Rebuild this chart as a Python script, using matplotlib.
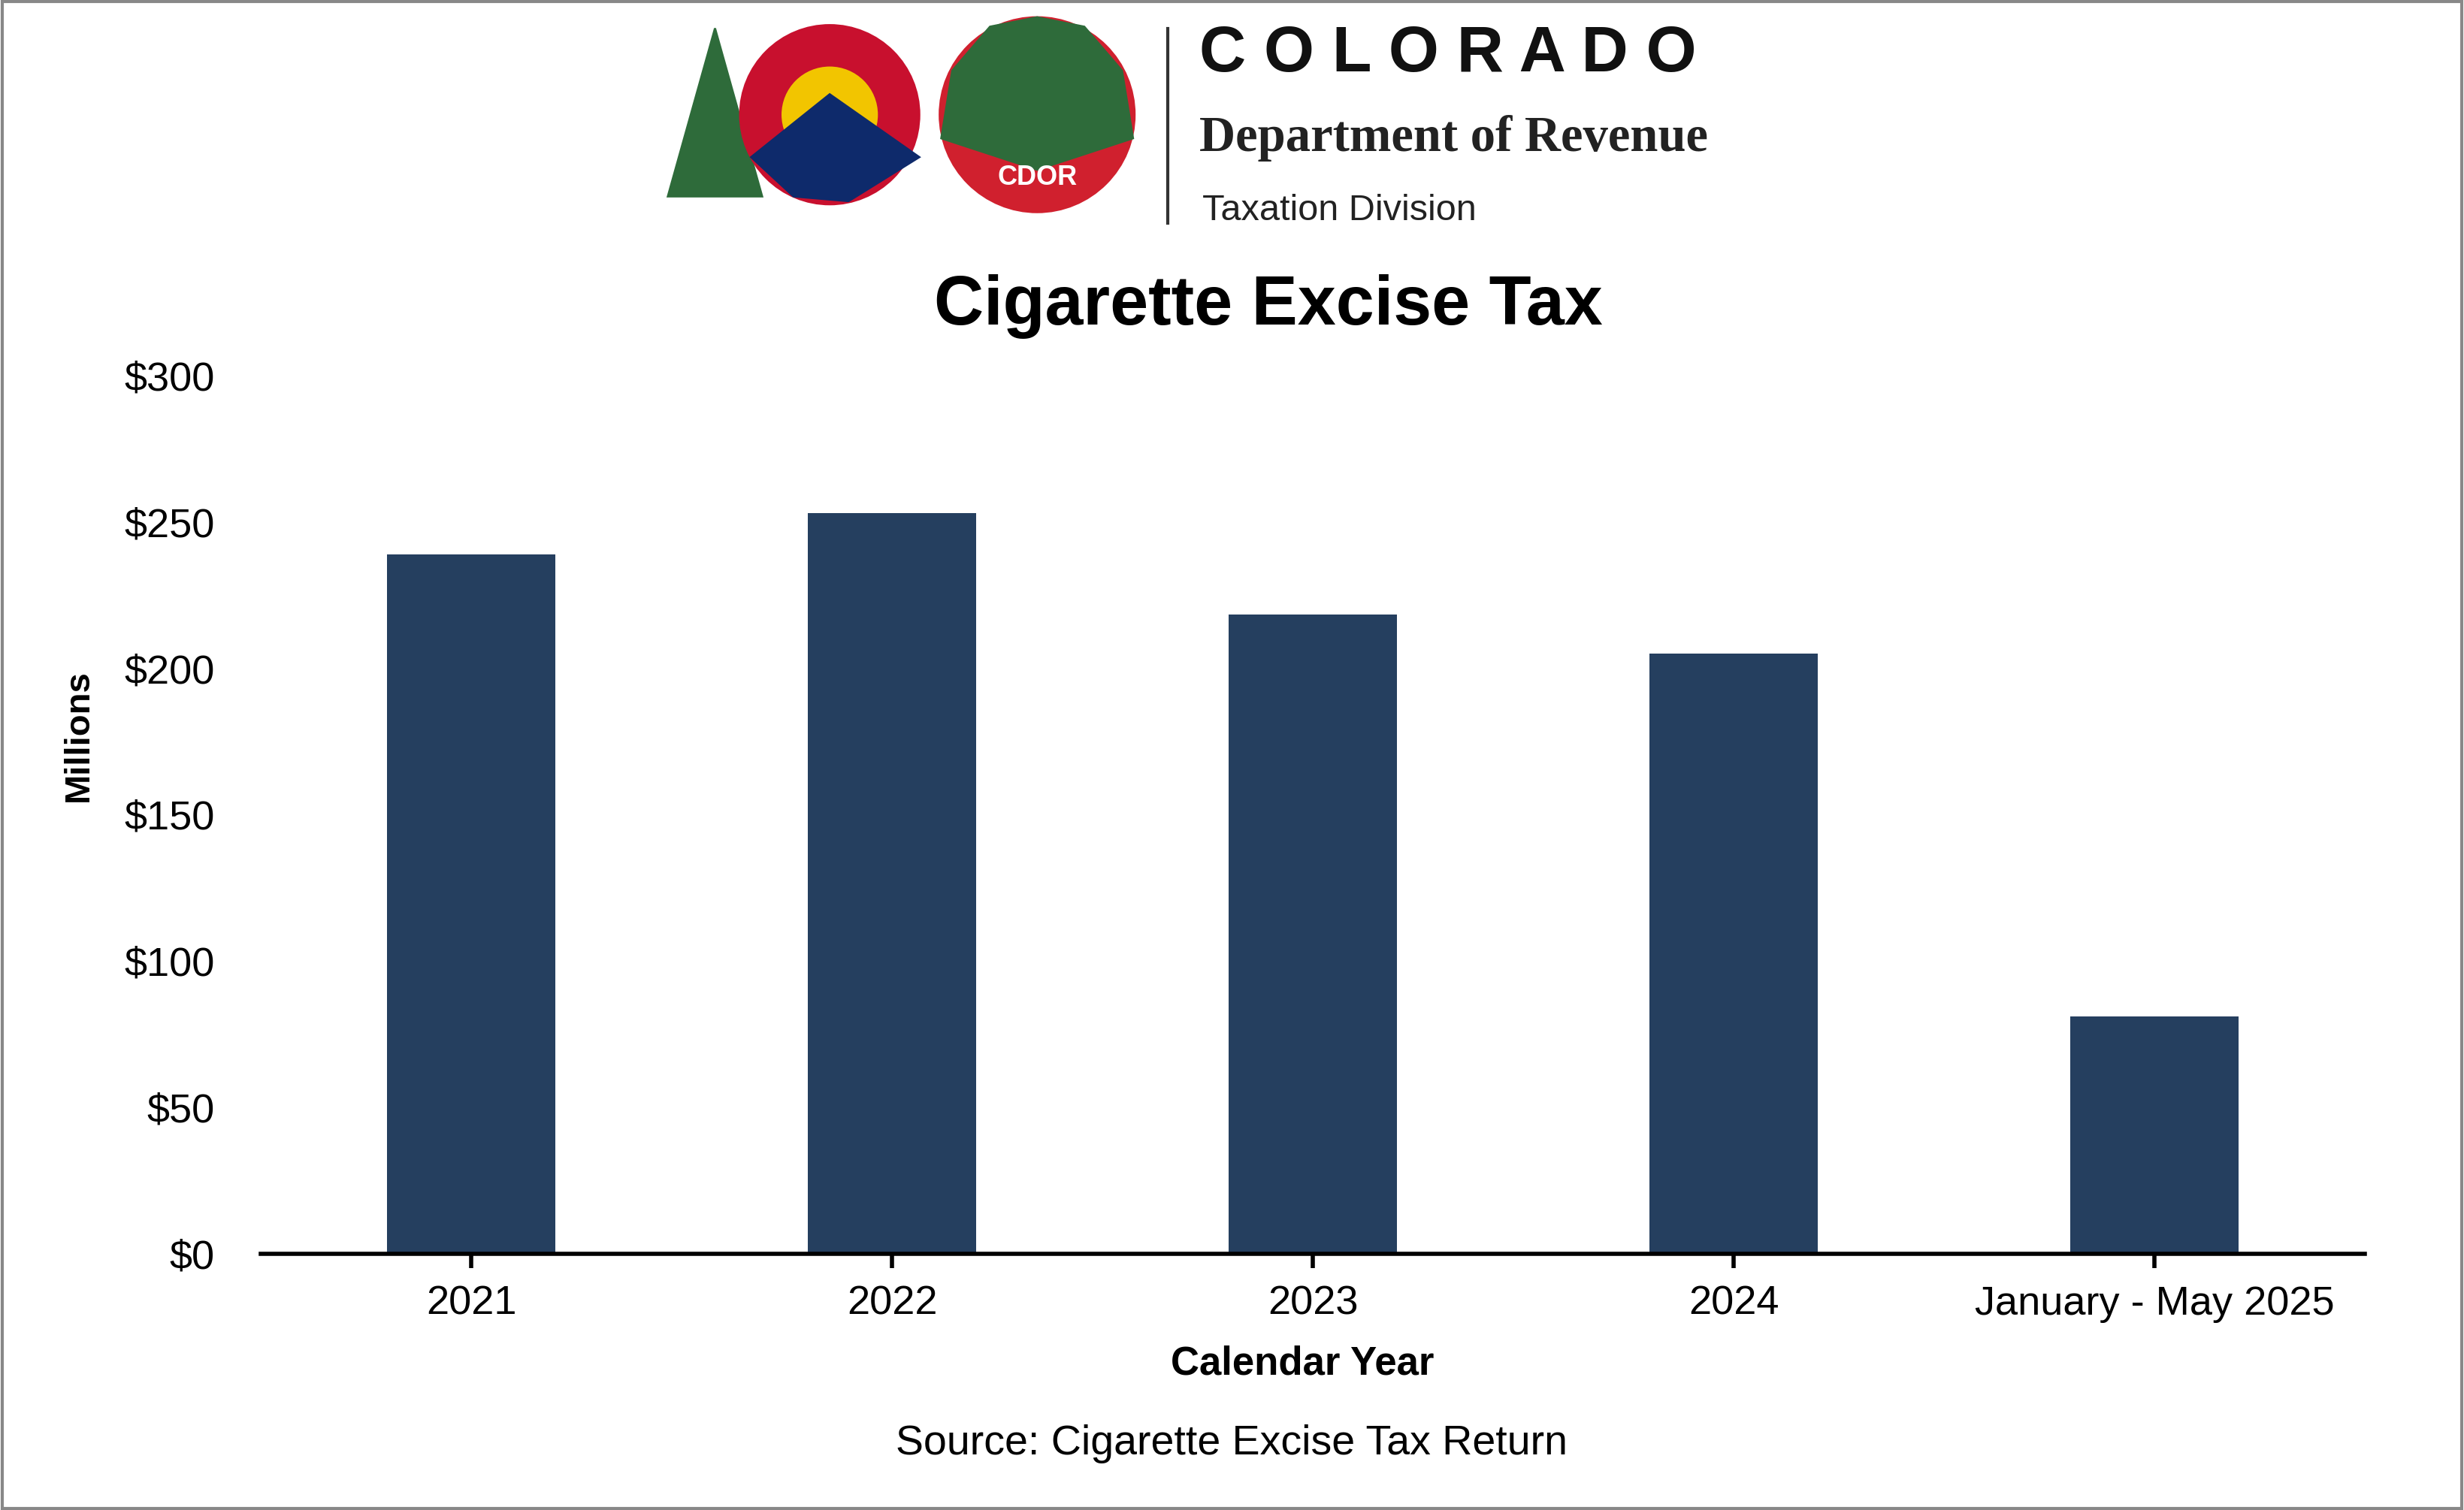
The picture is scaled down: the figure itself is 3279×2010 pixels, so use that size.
import matplotlib
matplotlib.use("Agg")
import matplotlib.pyplot as plt
from matplotlib.patches import Polygon, Rectangle, Ellipse
from matplotlib.lines import Line2D

categories = ["2021", "2022", "2023", "2024", "January - May 2025"]
values = [239, 253, 218.5, 205, 81]
yticks = [0, 50, 100, 150, 200, 250, 300]
ytick_labels = ["$0", "$50", "$100", "$150", "$200", "$250", "$300"]

W, H = 1568, 961
fig = plt.figure(figsize=(16.395, 10.05), dpi=200)
plt.rcParams["font.family"] = "Liberation Sans"

def fx(x): return x / W
def fy(y): return 1 - y / H

ax = fig.add_axes([fx(166), fy(798), fx(1505) - fx(166), fy(239) - fy(798)])
ax.bar(range(len(values)), values, width=0.4, color="#253F5F")
ax.set_xlim(-0.5, 4.5)
ax.set_ylim(0, 300)
ax.set_yticks(yticks)
ax.set_yticklabels(ytick_labels, fontsize=19.5)
ax.set_xticks(range(len(categories)))
ax.set_xticklabels(categories, fontsize=19.5)
ax.tick_params(axis="y", length=0, pad=22)
ax.tick_params(axis="x", length=7, width=2, direction="out", pad=8)
for s in ["top", "right", "left"]:
    ax.spines[s].set_visible(False)
ax.spines["bottom"].set_linewidth(2)
ax.set_ylabel("Millions", fontsize=17, fontweight="bold")
ax.yaxis.set_label_coords((50 - 166) / (1505 - 166), (798 - 468) / (798 - 239))
ax.set_xlabel("Calendar Year", fontsize=19, fontweight="bold")
ax.xaxis.set_label_coords((829 - 166) / (1505 - 166), -(868 - 798) / (798 - 239))
ax.xaxis.label.set_va("center")
ax.yaxis.label.set_va("center")

fig.text(fx(807), fy(195), "Cigarette Excise Tax", ha="center", va="center", fontsize=33, fontweight="bold")
fig.text(fx(784), fy(919), "Source: Cigarette Excise Tax Return", ha="center", va="center", fontsize=20)

fig.add_artist(Rectangle((0.001, 0.001), 0.998, 0.998, transform=fig.transFigure, fill=False, edgecolor="#888888", lw=1.5))

# logo (approximate)
fig.add_artist(Polygon([(fx(425), fy(125)), (fx(455), fy(18)), (fx(485), fy(125))], closed=True, transform=fig.transFigure, color="#2E6B3A"))
fig.add_artist(Ellipse((fx(528), fy(73)), 2 * 57 / W, 2 * 57 / H, transform=fig.transFigure, color="#C8102E"))
fig.add_artist(Ellipse((fx(528), fy(73)), 2 * 30 / W, 2 * 30 / H, transform=fig.transFigure, color="#F2C500"))
fig.add_artist(Polygon([(fx(478), fy(100)), (fx(528), fy(60)), (fx(585), fy(100)), (fx(540), fy(128)), (fx(505), fy(125))], closed=True, transform=fig.transFigure, color="#0E2A6B"))
fig.add_artist(Ellipse((fx(660), fy(73)), 2 * 62 / W, 2 * 62 / H, transform=fig.transFigure, color="#D0202E"))
fig.add_artist(Polygon([(fx(599), fy(88)), (fx(660), fy(108)), (fx(721), fy(88)), (fx(714), fy(45)), (fx(690), fy(17)), (fx(660), fy(11)), (fx(630), fy(17)), (fx(606), fy(45))], closed=True, transform=fig.transFigure, color="#2E6B3A"))
fig.text(fx(660), fy(113), "CDOR", ha="center", va="center", fontsize=13, fontweight="bold", color="white")
fig.add_artist(Line2D([fx(743), fx(743)], [fy(18), fy(142)], transform=fig.transFigure, color="#333333", lw=1.5))
fig.text(fx(763), fy(35), "C O L O R A D O", ha="left", va="center", fontsize=31, fontweight="bold", color="#111111")
fig.text(fx(763), fy(88), "Department of Revenue", ha="left", va="center", fontsize=24, fontweight="bold", family="Liberation Serif", color="#222222")
fig.text(fx(765), fy(134), "Taxation Division", ha="left", va="center", fontsize=17.5, color="#222222")

fig.savefig("out.png", dpi=200)
